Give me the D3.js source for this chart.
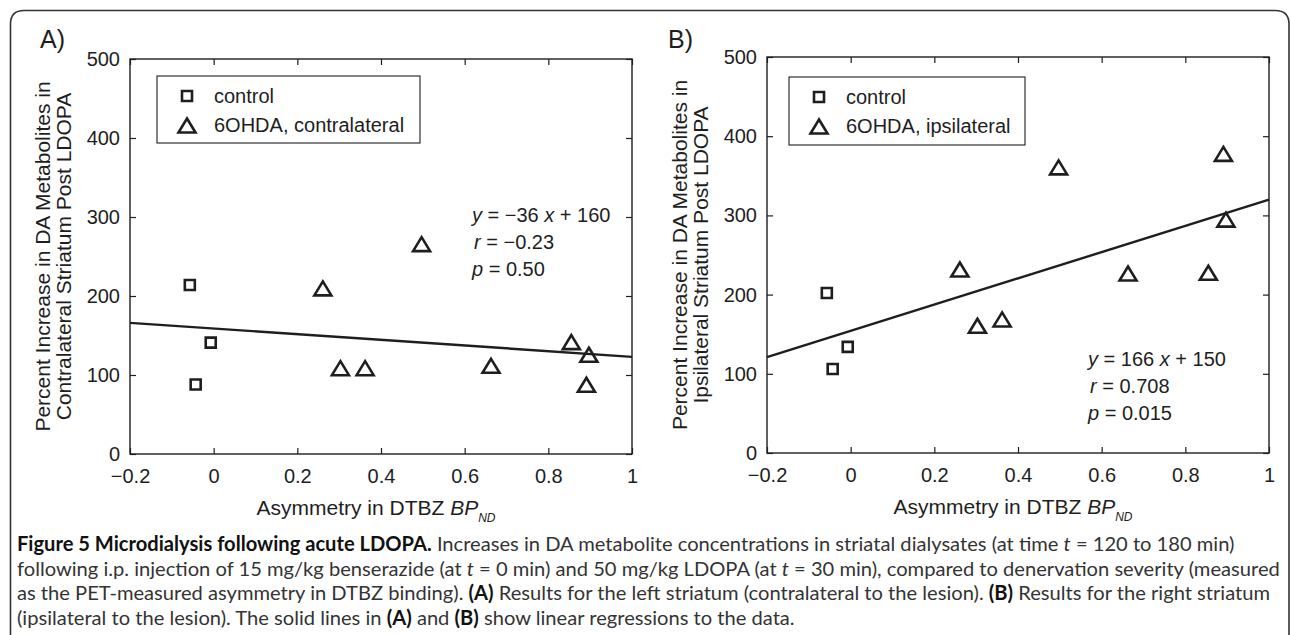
<!doctype html>
<html lang="en">
<head>
<meta charset="UTF-8" />
<title>Figure 5 Microdialysis following acute LDOPA</title>
<script src="https://d3js.org/d3.v7.min.js"></script>
<style>
    body { margin: 0; background: #fff; }
    svg { display: block; font-family: "Liberation Sans", Arial, sans-serif; }
    .caption { font-family: Lato, "Open Sans", sans-serif; fill: #333; }
</style>
</head>
<body>
<svg id="fig" width="1290" height="635"></svg>
<script>
const xTicks = [-0.2, 0, 0.2, 0.4, 0.6, 0.8, 1];
const xTickLabels = ["\u22120.2", "0", "0.2", "0.4", "0.6", "0.8", "1"];
const yTicks = [0, 100, 200, 300, 400, 500];

// DTBZ asymmetry of each animal (same in both panels)
const controlAsym = [-0.057, -0.043, -0.007];
const lesionAsym = [0.261, 0.303, 0.362, 0.497, 0.663, 0.855, 0.891, 0.897];

// percent increase, left striatum (A) and right striatum (B)
const controlA = [214, 88, 141];
const lesionA = [209, 108, 108, 265, 111, 141, 87, 125];
const controlB = [202, 106, 134];
const lesionB = [231, 160, 168, 360, 226, 227, 377, 294];

// regression lines, ends
const fitX = [-0.2, 1];
const fitA = [166, 123];
const fitB = [121, 320];

const statsA = { slope: "\u221236", icept: "160", r: "\u22120.23", p: "0.50" };
const statsB = { slope: "166", icept: "150", r: "0.708", p: "0.015" };

const yLabelA = ["Percent Increase in DA Metabolites in", "Contralateral Striatum Post LDOPA"];
const yLabelB = ["Percent Increase in DA Metabolites in", "Ipsilateral Striatum Post LDOPA"];

const caption = [
    [["Figure 5 Microdialysis following acute LDOPA.", "b"], [" Increases in DA metabolite concentrations in striatal dialysates (at time "], ["t", "i"], [" = 120 to 180 min)"]],
    [["following i.p. injection of 15 mg/kg benserazide (at "], ["t", "i"], [" = 0 min) and 50 mg/kg LDOPA (at "], ["t", "i"], [" = 30 min), compared to denervation severity (measured"]],
    [["as the PET-measured asymmetry in DTBZ binding). "], ["(A)", "b"], [" Results for the left striatum (contralateral to the lesion). "], ["(B)", "b"], [" Results for the right striatum"]],
    [["(ipsilateral to the lesion). The solid lines in "], ["(A)", "b"], [" and "], ["(B)", "b"], [" show linear regressions to the data."]],
];

const panels = [
    { tag: "A)", tagX: 40, left: 130, top: 59, right: 632, bottom: 454,
      control: controlA, lesion: lesionA, fit: fitA, stats: statsA, ylab: yLabelA,
      legend: { x: 157, y: 76, w: 263, h: 67, label: "6OHDA, contralateral" },
      statX: 472, statY: 222 },
    { tag: "B)", tagX: 668, left: 767, top: 57, right: 1269, bottom: 453,
      control: controlB, lesion: lesionB, fit: fitB, stats: statsB, ylab: yLabelB,
      legend: { x: 789, y: 77, w: 236, h: 68, label: "6OHDA, ipsilateral" },
      statX: 1088, statY: 366 },
];

const ink = "#1e1e1e";
const svg = d3.select("#fig");

// outer frame, rounded top corners
svg.append("path")
    .attr("d", "M10.5,635 V24 Q10.5,10.5 24,10.5 H1275 Q1289,10.5 1289,24 V635")
    .attr("fill", "none")
    .attr("stroke", "#333")
    .attr("stroke-width", 1.6);

const squarePath = "M-5,-5H5V5H-5Z";
const trianglePath = "M0,-7.5L8.5,6.5L-8.5,6.5Z";

function marker(g, path, tx, ty) {
    g.append("path")
        .attr("d", path)
        .attr("transform", `translate(${tx},${ty})`)
        .attr("fill", "none")
        .attr("stroke", ink)
        .attr("stroke-width", 2.6)
        .attr("stroke-linejoin", "miter");
}

panels.forEach((p) => {
    const x = d3.scaleLinear().domain([-0.2, 1]).range([p.left, p.right]);
    const y = d3.scaleLinear().domain([0, 500]).range([p.bottom, p.top]);
    const g = svg.append("g").attr("fill", ink).style("color", ink);

    g.append("text")
        .attr("x", p.tagX)
        .attr("y", 48)
        .attr("font-size", 25)
        .text(p.tag);

    const styleAxis = (sel) => {
        sel.attr("font-size", 20).attr("font-family", null);
        sel.select(".domain").remove();
        sel.selectAll(".tick line").attr("stroke-width", 1.2);
        sel.selectAll(".tick text").attr("fill", ink);
    };

    g.append("g")
        .attr("transform", `translate(0,${p.bottom})`)
        .call(d3.axisBottom(x).tickValues(xTicks).tickSize(-6).tickPadding(15)
            .tickFormat((d, i) => xTickLabels[i]))
        .call(styleAxis);
    g.append("g")
        .attr("transform", `translate(0,${p.top})`)
        .call(d3.axisTop(x).tickValues(xTicks).tickSize(-6).tickFormat(""))
        .call(styleAxis);
    g.append("g")
        .attr("transform", `translate(${p.left},0)`)
        .call(d3.axisLeft(y).tickValues(yTicks).tickSize(-6).tickPadding(10))
        .call(styleAxis);
    g.append("g")
        .attr("transform", `translate(${p.right},0)`)
        .call(d3.axisRight(y).tickValues(yTicks).tickSize(-6).tickFormat(""))
        .call(styleAxis);

    g.append("rect")
        .attr("x", p.left)
        .attr("y", p.top)
        .attr("width", p.right - p.left)
        .attr("height", p.bottom - p.top)
        .attr("fill", "none")
        .attr("stroke", ink)
        .attr("stroke-width", 1.4);

    // regression line
    g.append("path")
        .datum(fitX.map((v, i) => [v, p.fit[i]]))
        .attr("d", d3.line().x((d) => x(d[0])).y((d) => y(d[1])))
        .attr("fill", "none")
        .attr("stroke", ink)
        .attr("stroke-width", 2.4);

    controlAsym.forEach((v, i) => marker(g, squarePath, x(v), y(p.control[i])));
    lesionAsym.forEach((v, i) => marker(g, trianglePath, x(v), y(p.lesion[i])));

    // legend
    const L = p.legend;
    g.append("rect")
        .attr("x", L.x).attr("y", L.y)
        .attr("width", L.w).attr("height", L.h)
        .attr("fill", "#fff")
        .attr("stroke", ink)
        .attr("stroke-width", 1.1);
    marker(g, squarePath, L.x + 30, L.y + 20);
    marker(g, trianglePath, L.x + 30, L.y + 50);
    g.append("text").attr("x", L.x + 57).attr("y", L.y + 20).attr("dy", "0.35em")
        .attr("font-size", 20).text("control");
    g.append("text").attr("x", L.x + 57).attr("y", L.y + 49).attr("dy", "0.35em")
        .attr("font-size", 20).text(L.label);

    // fit statistics
    const s = p.stats;
    const t1 = g.append("text").attr("x", p.statX).attr("y", p.statY).attr("font-size", 20);
    t1.append("tspan").attr("font-style", "italic").text("y");
    t1.append("tspan").text(` = ${s.slope} `);
    t1.append("tspan").attr("font-style", "italic").text("x");
    t1.append("tspan").text(` + ${s.icept}`);
    const t2 = g.append("text").attr("x", p.statX + 2).attr("y", p.statY + 27).attr("font-size", 20);
    t2.append("tspan").attr("font-style", "italic").text("r");
    t2.append("tspan").text(` = ${s.r}`);
    const t3 = g.append("text").attr("x", p.statX).attr("y", p.statY + 54).attr("font-size", 20);
    t3.append("tspan").attr("font-style", "italic").text("p");
    t3.append("tspan").text(` = ${s.p}`);

    // axis titles
    const xl = g.append("text")
        .attr("x", (p.left + p.right) / 2 - 5)
        .attr("y", p.bottom + 61)
        .attr("text-anchor", "middle")
        .attr("font-size", 21);
    xl.append("tspan").text("Asymmetry in DTBZ ");
    xl.append("tspan").attr("font-style", "italic").text("BP");
    xl.append("tspan").attr("font-style", "italic").attr("font-size", 12).attr("dy", 7).text("ND");

    const cy = (p.top + p.bottom) / 2;
    p.ylab.forEach((line, i) => {
        g.append("text")
            .attr("transform", `translate(${p.left - 87 + i * 21},${cy}) rotate(-90)`)
            .attr("text-anchor", "middle")
            .attr("dy", "0.35em")
            .attr("font-size", 21)
            .text(line);
    });
});

// caption, sized so the second line fills the frame width
const capX = 17;
const capG = svg.append("g").attr("class", "caption");
const capLines = caption.map((segs, i) => {
    const t = capG.append("text").attr("x", capX).attr("y", 551 + i * 24.5).attr("font-size", 17);
    segs.forEach(([txt, st]) => {
        const ts = t.append("tspan").text(txt);
        if (st === "b") ts.attr("font-weight", "bold").attr("fill", "#111");
        if (st === "i") ts.attr("font-style", "italic");
    });
    return t;
});
const w = capLines[1].node().getComputedTextLength();
const fs = 17 * ((1281 - capX) / w);
capLines.forEach((t) => t.attr("font-size", fs));
</script>
</body>
</html>
